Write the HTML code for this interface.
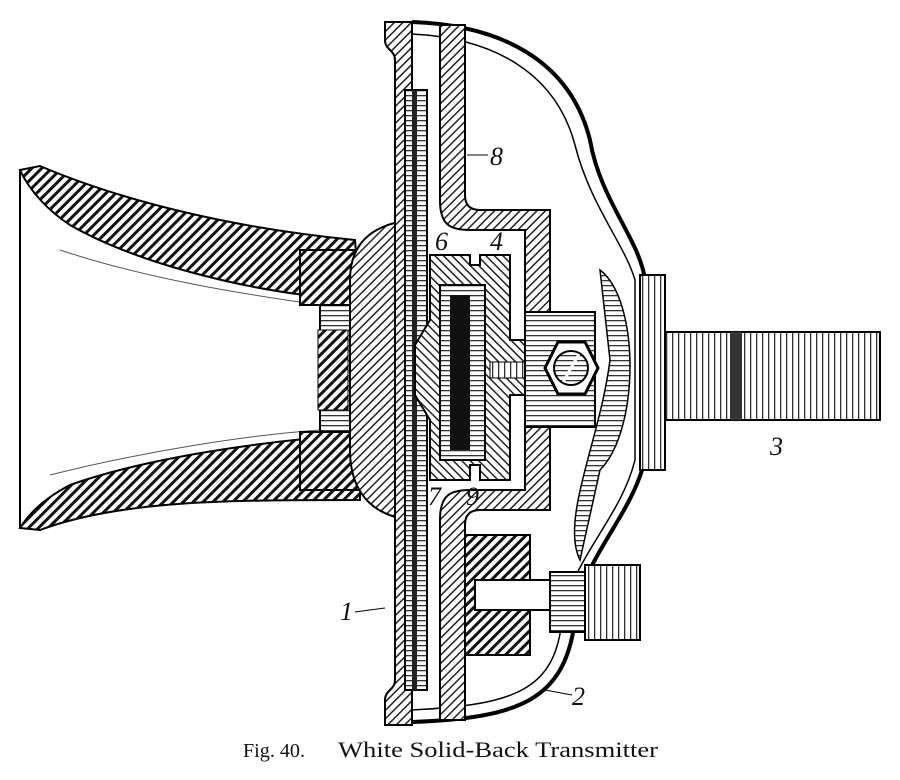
<!DOCTYPE html>
<html><head><meta charset="utf-8"><style>
html,body{margin:0;padding:0;background:#fff;}
svg{display:block;}
.l{font-family:"Liberation Serif",serif;font-style:italic;font-size:26px;fill:#111;}
</style></head><body>
<svg width="900" height="780" viewBox="0 0 900 780" xmlns="http://www.w3.org/2000/svg">
<defs>
<pattern id="h" width="7" height="7" patternUnits="userSpaceOnUse" patternTransform="rotate(45)">
<rect width="7" height="7" fill="#fff"/><rect width="3" height="7" fill="#111"/></pattern>
<pattern id="hf" width="6" height="6" patternUnits="userSpaceOnUse" patternTransform="rotate(45)">
<rect width="6" height="6" fill="#fff"/><rect width="1.5" height="6" fill="#222"/></pattern>
<pattern id="hr" width="6" height="6" patternUnits="userSpaceOnUse" patternTransform="rotate(-45)">
<rect width="6" height="6" fill="#fff"/><rect width="1.5" height="6" fill="#222"/></pattern>
<pattern id="hz" width="6" height="5" patternUnits="userSpaceOnUse">
<rect width="6" height="5" fill="#fff"/><rect width="6" height="1.3" fill="#333"/></pattern>
<pattern id="vt" width="6" height="6" patternUnits="userSpaceOnUse">
<rect width="6" height="6" fill="#fff"/><rect width="1.3" height="6" fill="#333"/></pattern>
</defs>
<rect width="900" height="780" fill="#fff"/>
<!-- horn -->
<path d="M20,170 L40,166 C120,200 230,228 355,240 L360,300 C260,295 140,265 70,225 C50,212 30,192 20,170 Z" fill="url(#h)" stroke="#000" stroke-width="2"/>
<path d="M20,528 L40,530 C120,500 230,500 360,500 L360,435 C260,440 140,460 70,485 C45,498 30,512 20,528 Z" fill="url(#h)" stroke="#000" stroke-width="2"/>
<line x1="20" y1="170" x2="20" y2="528" stroke="#000" stroke-width="2"/>
<path d="M60,250 C150,280 250,295 320,305 M50,475 C150,450 250,435 320,430" stroke="#555" fill="none" stroke-width="1"/>
<!-- collar -->
<rect x="300" y="250" width="95" height="55" fill="url(#h)" stroke="#000" stroke-width="2"/>
<rect x="300" y="432" width="95" height="58" fill="url(#h)" stroke="#000" stroke-width="2"/>
<rect x="320" y="305" width="80" height="127" fill="url(#hz)" stroke="#000" stroke-width="2"/>
<rect x="318" y="330" width="30" height="80" fill="url(#h)" stroke="#000"/>
<rect x="350" y="355" width="70" height="30" fill="url(#vt)" stroke="#000" stroke-width="2"/>
<!-- front cover bulge -->
<path d="M410,220 C370,225 350,245 350,280 L350,450 C350,490 370,515 410,520 Z" fill="url(#hf)" stroke="#000" stroke-width="2"/>
<path d="M385,22 L412,22 L412,725 L385,725 L385,700 C385,690 395,690 395,680 L395,60 C395,50 385,50 385,40 Z" fill="url(#hf)" stroke="#000" stroke-width="2"/>
<rect x="405" y="90" width="22" height="600" fill="url(#hz)" stroke="#000" stroke-width="2"/>
<rect x="412" y="90" width="5" height="600" fill="#222"/>
<!-- shell -->
<path d="M412,22 C500,25 570,60 590,140 C600,200 640,240 645,280 L645,460 C630,520 580,560 575,620 C565,700 520,718 412,722" fill="none" stroke="#000" stroke-width="4"/>
<path d="M412,34 C490,38 555,70 575,145 C590,205 625,245 635,280 L635,460 C620,520 570,560 562,620 C555,690 515,705 412,710" fill="none" stroke="#000" stroke-width="1.5"/>
<path d="M600,270 C640,300 640,430 600,470 L580,560 C560,520 600,440 610,360 Z" fill="url(#hz)" stroke="#000" stroke-width="1.5"/>
<!-- back plate 8 -->
<path d="M440,25 L465,25 L465,195 C465,205 470,210 480,210 L550,210 L550,510 L480,510 C470,510 465,515 465,525 L465,720 L440,720 L440,520 C440,495 450,490 470,490 L525,490 L525,230 L470,230 C450,230 440,225 440,200 Z" fill="url(#hf)" stroke="#000" stroke-width="2"/>
<!-- button cup -->
<path d="M430,255 L470,255 L470,265 L480,265 L480,255 L510,255 L510,340 L525,340 L525,395 L510,395 L510,480 L480,480 L480,465 L470,465 L470,480 L430,480 L430,420 L415,395 L415,345 L430,320 Z" fill="url(#hr)" stroke="#000" stroke-width="2"/>
<rect x="440" y="285" width="45" height="175" fill="url(#hz)" stroke="#000" stroke-width="2"/>
<rect x="450" y="295" width="20" height="155" fill="#111"/>
<rect x="490" y="362" width="35" height="16" fill="url(#vt)" stroke="#000"/>
<!-- clamp & nut -->
<rect x="525" y="312" width="70" height="115" fill="url(#hz)" stroke="#000" stroke-width="2"/>
<polygon points="545,368 558,342 585,342 598,368 585,394 558,394" fill="#fff" stroke="#000" stroke-width="3"/>
<circle cx="571" cy="368" r="17" fill="url(#hz)" stroke="#000" stroke-width="2"/>
<line x1="563" y1="382" x2="579" y2="354" stroke="#fff" stroke-width="3"/>
<!-- flange & shaft -->
<rect x="640" y="275" width="25" height="195" fill="url(#vt)" stroke="#000" stroke-width="2"/>
<rect x="665" y="332" width="215" height="88" fill="url(#vt)" stroke="#000" stroke-width="2"/>
<rect x="730" y="332" width="12" height="88" fill="#333"/>
<!-- bottom block & screw -->
<rect x="465" y="535" width="65" height="120" fill="url(#h)" stroke="#000" stroke-width="2"/>
<rect x="475" y="580" width="80" height="30" fill="#fff" stroke="#000" stroke-width="2"/>
<rect x="550" y="572" width="35" height="60" fill="url(#hz)" stroke="#000" stroke-width="2"/>
<rect x="585" y="565" width="55" height="75" fill="url(#vt)" stroke="#000" stroke-width="2"/>
<!-- labels -->
<text class="l" x="490" y="165">8</text>
<text class="l" x="435" y="250">6</text>
<text class="l" x="490" y="250">4</text>
<text class="l" x="428" y="505">7</text>
<text class="l" x="466" y="505">9</text>
<text class="l" x="340" y="620">1</text>
<text class="l" x="572" y="705">2</text>
<text class="l" x="770" y="455">3</text>
<line x1="467" y1="155" x2="488" y2="155" stroke="#000"/>
<line x1="355" y1="612" x2="385" y2="608" stroke="#000"/>
<line x1="545" y1="690" x2="572" y2="695" stroke="#000"/>
<text x="243" y="757" font-family="Liberation Serif,serif" font-size="20" fill="#111" textLength="62" lengthAdjust="spacingAndGlyphs">Fig. 40.</text>
<text x="338" y="757" font-family="Liberation Serif,serif" font-size="22" fill="#111" textLength="320" lengthAdjust="spacingAndGlyphs">White Solid-Back Transmitter</text>
</svg>
</body></html>
